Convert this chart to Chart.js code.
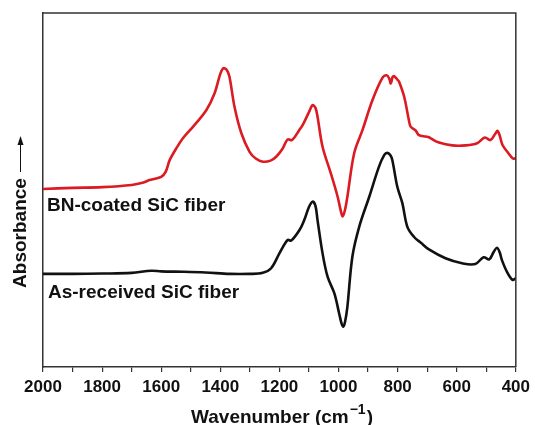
<!DOCTYPE html>
<html>
<head>
<meta charset="utf-8">
<script src="https://cdn.jsdelivr.net/npm/chart.js@4"></script>
<style>
  html, body { margin: 0; padding: 0; background: #ffffff; }
  #wrap { width: 535px; height: 425px; }
</style>
</head>
<body>
<div id="wrap"><canvas id="ftirChart" width="535" height="425"></canvas></div>
<script>
// wavenumber (cm-1) and relative absorbance (arbitrary units, offset curves)
const bnWavenumber = [2000, 1900, 1800, 1700, 1660, 1640, 1620, 1600, 1585, 1571, 1548, 1526, 1492, 1447, 1419, 1400, 1389, 1378, 1369, 1352, 1329, 1301, 1280, 1256, 1230, 1211, 1190, 1172, 1157, 1133, 1121, 1100, 1088, 1078, 1071, 1054, 1026, 1003, 993, 986, 978, 970, 947, 919, 885, 852, 837, 828, 823, 817, 812, 800, 795, 778, 762, 756, 739, 728, 705, 694, 688, 660, 615, 570, 531, 505, 486, 470, 462, 455, 445, 425, 410, 400];
const bnAbsorbance = [50.3, 50.6, 50.8, 51.4, 52.1, 52.8, 53.2, 53.7, 55.1, 58.5, 61.9, 64.7, 67.9, 72.6, 77.4, 82.8, 84.4, 83.9, 82.0, 73.5, 66.1, 60.8, 58.9, 58.0, 58.3, 59.4, 61.6, 64.3, 64.1, 66.9, 68.4, 72.0, 74.0, 73.2, 70.7, 62.2, 54.7, 48.1, 44.4, 42.5, 44.4, 48.1, 60.4, 66.9, 75.4, 81.6, 82.4, 81.4, 80.1, 81.9, 82.2, 81.1, 80.6, 76.4, 69.8, 67.9, 66.8, 65.5, 65.1, 64.9, 64.6, 63.4, 62.6, 62.6, 63.2, 64.8, 64.1, 65.8, 66.7, 65.5, 62.7, 60.4, 58.9, 59.0];

const asWavenumber = [2000, 1900, 1800, 1700, 1633, 1600, 1523, 1450, 1368, 1300, 1256, 1228, 1200, 1172, 1160, 1132, 1116, 1100, 1088, 1078, 1071, 1054, 1037, 1014, 998, 990, 984, 978, 970, 953, 930, 896, 863, 845, 835, 825, 818, 801, 784, 767, 745, 720, 694, 638, 582, 537, 509, 490, 475, 464, 455, 447, 430, 411, 400];
const asAbsorbance = [26.3, 26.3, 26.4, 26.6, 27.2, 27.0, 26.9, 26.7, 26.3, 26.3, 26.6, 27.9, 32.1, 35.9, 35.7, 38.7, 41.5, 45.2, 46.7, 45.5, 41.5, 32.1, 25.5, 20.8, 15.2, 12.4, 11.4, 12.7, 17.0, 31.2, 39.6, 48.1, 56.6, 59.9, 60.5, 59.9, 58.5, 50.9, 46.3, 39.6, 36.8, 35.0, 33.2, 30.7, 29.3, 29.1, 31.0, 30.4, 32.5, 33.7, 32.5, 30.2, 26.9, 24.6, 25.1];

const seriesNames = ["BN-coated SiC fiber", "As-received SiC fiber"];
const xTickStep = 100;
const xLabelStep = 200;

const FONT = "'Liberation Sans', Arial, Helvetica, sans-serif";

function toPoints(xs, ys) {
    return xs.map(function (x, i) { return { x: x, y: ys[i] }; });
}

const decorations = {
    id: "decorations",
    afterDraw: function (chart) {
        const ctx = chart.ctx;
        const area = chart.chartArea;
        ctx.save();

        // top and right frame
        ctx.strokeStyle = "#333333";
        ctx.lineWidth = 1.5;
        ctx.beginPath();
        ctx.moveTo(area.left, area.top);
        ctx.lineTo(area.right, area.top);
        ctx.lineTo(area.right, area.bottom);
        ctx.stroke();

        // curve labels
        ctx.fillStyle = "#111111";
        ctx.font = "bold 19px " + FONT;
        ctx.textAlign = "left";
        ctx.textBaseline = "alphabetic";
        ctx.fillText(seriesNames[0], 47, 211);
        ctx.fillText(seriesNames[1], 48, 298);

        // y title with arrow
        ctx.save();
        ctx.translate(26, 233);
        ctx.rotate(-Math.PI / 2);
        ctx.font = "bold 19px " + FONT;
        ctx.textAlign = "center";
        ctx.fillText("Absorbance", 0, 0);
        ctx.restore();
        ctx.strokeStyle = "#111111";
        ctx.lineWidth = 1;
        ctx.beginPath();
        ctx.moveTo(20.5, 172);
        ctx.lineTo(20.5, 141);
        ctx.stroke();
        ctx.beginPath();
        ctx.moveTo(20.5, 136);
        ctx.lineTo(17.5, 145);
        ctx.lineTo(23.5, 145);
        ctx.closePath();
        ctx.fill();

        // x title with superscript
        ctx.font = "bold 19px " + FONT;
        ctx.textAlign = "left";
        const main = "Wavenumber (cm";
        const sup = "\u22121";
        const close = ")";
        const wMain = ctx.measureText(main).width;
        ctx.font = "bold 14px " + FONT;
        const wSup = ctx.measureText(sup).width;
        ctx.font = "bold 19px " + FONT;
        const wClose = ctx.measureText(close).width;
        let x0 = 282 - (wMain + wSup + wClose + 2) / 2;
        ctx.fillText(main, x0, 423);
        ctx.font = "bold 14px " + FONT;
        ctx.fillText(sup, x0 + wMain + 1, 414);
        ctx.font = "bold 19px " + FONT;
        ctx.fillText(close, x0 + wMain + wSup + 2, 423);

        ctx.restore();
    }
};

new Chart(document.getElementById("ftirChart"), {
    type: "line",
    data: {
        datasets: [
            {
                label: seriesNames[0],
                data: toPoints(bnWavenumber, bnAbsorbance),
                borderColor: "#dc1a22",
                borderWidth: 2.6,
                pointRadius: 0,
                tension: 0.35,
                fill: false
            },
            {
                label: seriesNames[1],
                data: toPoints(asWavenumber, asAbsorbance),
                borderColor: "#111111",
                borderWidth: 2.6,
                pointRadius: 0,
                tension: 0.35,
                fill: false
            }
        ]
    },
    options: {
        responsive: false,
        animation: false,
        devicePixelRatio: 1,
        layout: { padding: { top: 13, right: 17, bottom: 0, left: 0 } },
        plugins: {
            legend: { display: false },
            tooltip: { enabled: false }
        },
        scales: {
            x: {
                type: "linear",
                reverse: true,
                min: 400,
                max: 2000,
                afterFit: function (scale) { scale.height = 58; },
                border: { display: true, color: "#333333", width: 1.5 },
                grid: {
                    display: true,
                    drawOnChartArea: false,
                    drawTicks: true,
                    tickLength: 5,
                    color: "#333333",
                    lineWidth: 1.2
                },
                ticks: {
                    stepSize: xTickStep,
                    autoSkip: false,
                    maxRotation: 0,
                    padding: 5,
                    color: "#111111",
                    font: { family: FONT, size: 17, weight: "bold" },
                    callback: function (v) { return v % xLabelStep === 0 ? String(v) : ""; }
                }
            },
            y: {
                type: "linear",
                min: 0,
                max: 100,
                afterFit: function (scale) { scale.width = 43; },
                border: { display: true, color: "#333333", width: 1.5 },
                grid: { display: false },
                ticks: { display: false }
            }
        }
    },
    plugins: [decorations]
});
</script>
</body>
</html>
